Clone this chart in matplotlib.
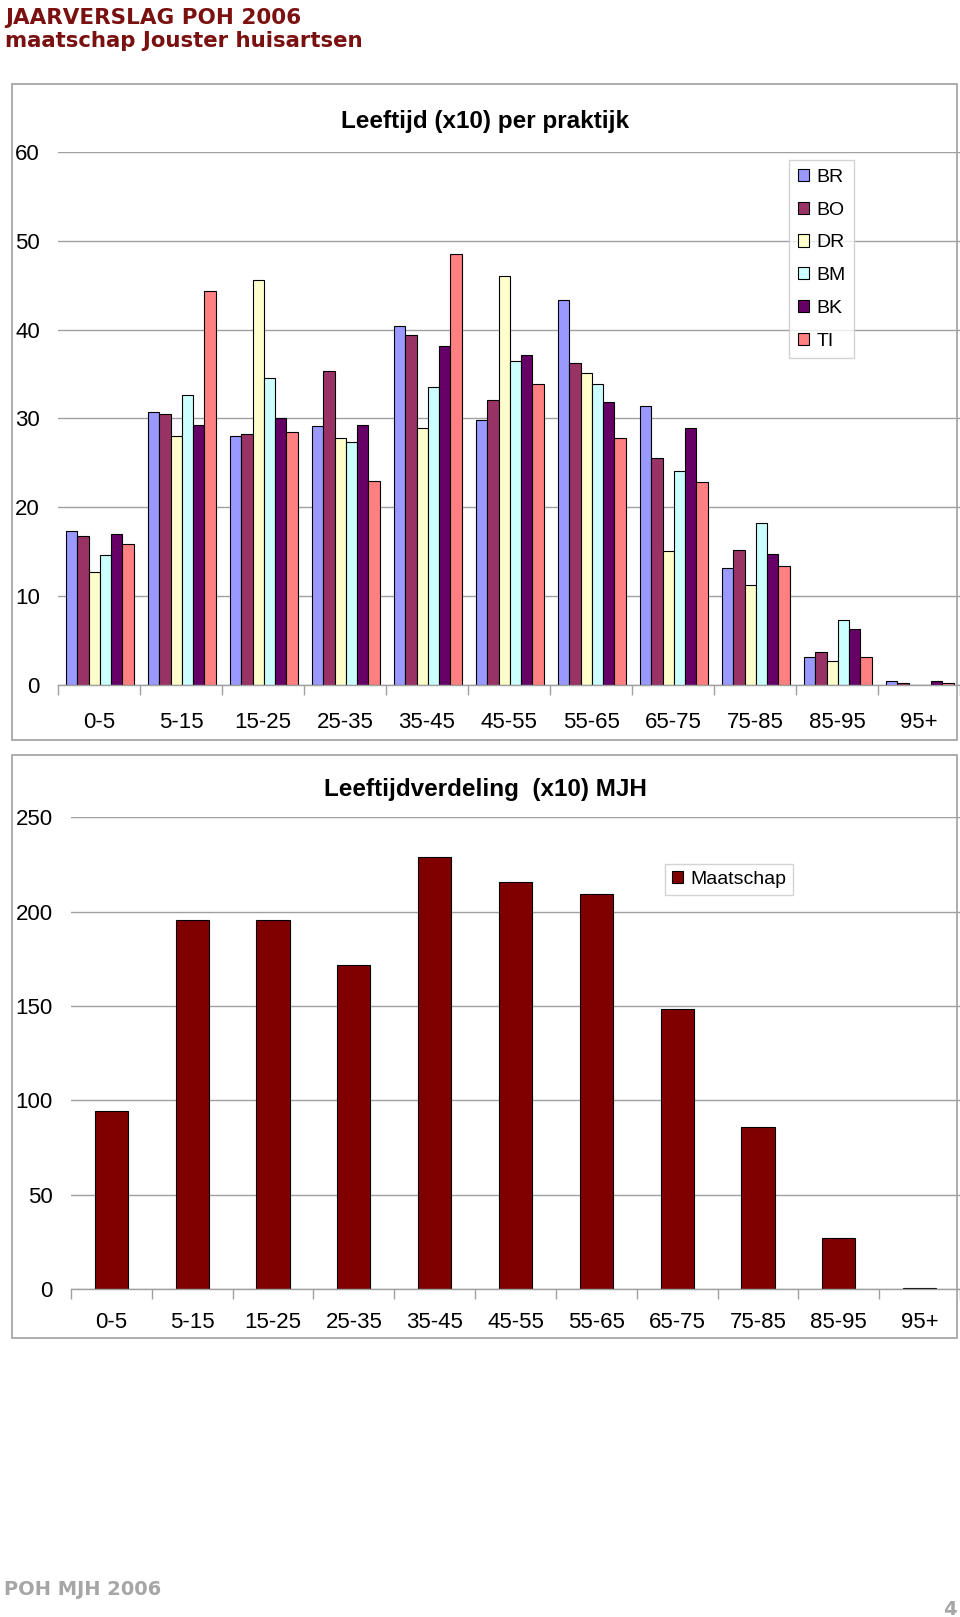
import matplotlib
matplotlib.use('Agg')
import matplotlib.pyplot as plt
import numpy as np
from matplotlib.patches import Rectangle

plt.rcParams['font.family'] = ['Liberation Sans', 'DejaVu Sans']

categories = ['0-5', '5-15', '15-25', '25-35', '35-45', '45-55',
              '55-65', '65-75', '75-85', '85-95', '95+']
practices = ['BR', 'BO', 'DR', 'BM', 'BK', 'TI']
br = [17.3, 30.7, 28.0, 29.1, 40.4, 29.8, 43.3, 31.4, 13.2, 3.2, 0.4]
bo = [16.8, 30.5, 28.3, 35.3, 39.4, 32.1, 36.3, 25.6, 15.2, 3.7, 0.2]
dr = [12.7, 28.0, 45.6, 27.8, 28.9, 46.0, 35.1, 15.1, 11.3, 2.7, 0.0]
bm = [14.6, 32.7, 34.6, 27.3, 33.5, 36.5, 33.9, 24.1, 18.2, 7.3, 0.0]
bk = [17.0, 29.3, 30.1, 29.3, 38.2, 37.1, 31.9, 28.9, 14.8, 6.3, 0.4]
ti = [15.9, 44.3, 28.5, 23.0, 48.5, 33.9, 27.8, 22.8, 13.4, 3.1, 0.2]
maatschap = [94.2, 195.6, 195.6, 171.8, 229.2, 215.8, 209.1, 148.6, 86.1, 27.0, 0.7]

practice_colors = ['#9999FF', '#993366', '#FFFFCC', '#CCFFFF', '#660066', '#FF8080']
maat_color = '#800000'
grid_gray = '#A0A0A0'

W, H = 960, 1617
fig = plt.figure(figsize=(W / 100, H / 100), dpi=100)


def fx(px):
    return px / W


def fy(py):
    return 1 - py / H


# chart frames
for (x0, y0, x1, y1) in [(12, 84, 957, 740), (12, 755, 957, 1338)]:
    fig.patches.append(Rectangle((fx(x0), fy(y1)), fx(x1 - x0), (y1 - y0) / H,
                                 transform=fig.transFigure, fill=False,
                                 edgecolor=grid_gray, linewidth=1.2))


def style_axes(ax, ymax, step, xpad):
    x = np.arange(len(categories))
    ax.set_xlim(-0.5, len(categories) - 0.5)
    ax.set_ylim(0, ymax)
    ax.set_yticks(np.arange(0, ymax + 1, step))
    ax.yaxis.grid(True, color=grid_gray, linewidth=1)
    ax.set_axisbelow(True)
    for s in ['left', 'right', 'top']:
        ax.spines[s].set_visible(False)
    ax.spines['bottom'].set_color(grid_gray)
    ax.spines['bottom'].set_linewidth(1)
    ax.tick_params(axis='y', length=0, pad=13, labelsize=16)
    ax.set_xticks(x)
    ax.set_xticklabels(categories)
    ax.tick_params(axis='x', which='major', length=0, pad=xpad, labelsize=16)
    ax.set_xticks(np.arange(-0.5, len(categories)), minor=True)
    ax.tick_params(axis='x', which='minor', length=7, color=grid_gray, width=1)
    ax.patch.set_alpha(0)


# top chart: per practice
ax1 = fig.add_axes([fx(58), fy(685), fx(960 - 58), (685 - 152) / H])
x = np.arange(len(categories))
bw = 0.137
series = [br, bo, dr, bm, bk, ti]
for i, (name, vals, col) in enumerate(zip(practices, series, practice_colors)):
    ax1.bar(x + (i - 2.5) * bw + 0.01, vals, width=bw, color=col,
            edgecolor='black', linewidth=0.8, label=name)
style_axes(ax1, 60, 10, 19.5)
leg1 = ax1.legend(loc='upper left', bbox_to_anchor=(fx(789), fy(160)),
                  bbox_transform=fig.transFigure, fontsize=14, frameon=True,
                  fancybox=False, handlelength=0.6, handleheight=0.6,
                  handletextpad=0.35, labelspacing=0.81, borderpad=0.45,
                  borderaxespad=0)
leg1.get_frame().set_edgecolor('#C8C8C8')
leg1.get_frame().set_linewidth(1)
fig.text(fx(485), fy(128), 'Leeftijd (x10) per praktijk', ha='center',
         va='baseline', fontsize=17.5, fontweight='bold')

# bottom chart: whole practice
ax2 = fig.add_axes([fx(71), fy(1289), fx(960 - 71), (1289 - 817.3) / H])
ax2.bar(x, maatschap, width=0.41, color=maat_color, edgecolor='black',
        linewidth=0.8, label='Maatschap')
style_axes(ax2, 250, 50, 16.5)
leg2 = ax2.legend(loc='upper left', bbox_to_anchor=(fx(665), fy(864)),
                  bbox_transform=fig.transFigure, fontsize=14, frameon=True,
                  fancybox=False, handlelength=0.6, handleheight=0.6,
                  handletextpad=0.35, borderpad=0.35, borderaxespad=0)
leg2.get_frame().set_edgecolor('#C8C8C8')
leg2.get_frame().set_linewidth(1)
fig.text(fx(485), fy(796), 'Leeftijdverdeling  (x10) MJH', ha='center',
         va='baseline', fontsize=17.5, fontweight='bold')

# page header and footer
head_col = '#7A1010'
fig.text(fx(5), fy(24), 'JAARVERSLAG POH 2006', fontsize=15.5, fontweight='bold',
         color=head_col, family='DejaVu Sans', va='baseline')
fig.text(fx(5), fy(47), 'maatschap Jouster huisartsen', fontsize=15.3,
         fontweight='bold', color=head_col, family='DejaVu Sans', va='baseline')
fig.text(fx(4), fy(1595), 'POH MJH 2006', fontsize=14, fontweight='bold',
         color='#A6A6A6', family='DejaVu Sans', va='baseline')
fig.text(fx(957), fy(1615), '4', fontsize=14, fontweight='bold',
         color='#A6A6A6', family='DejaVu Sans', va='baseline', ha='right')

fig.savefig('out.png', dpi=100)
